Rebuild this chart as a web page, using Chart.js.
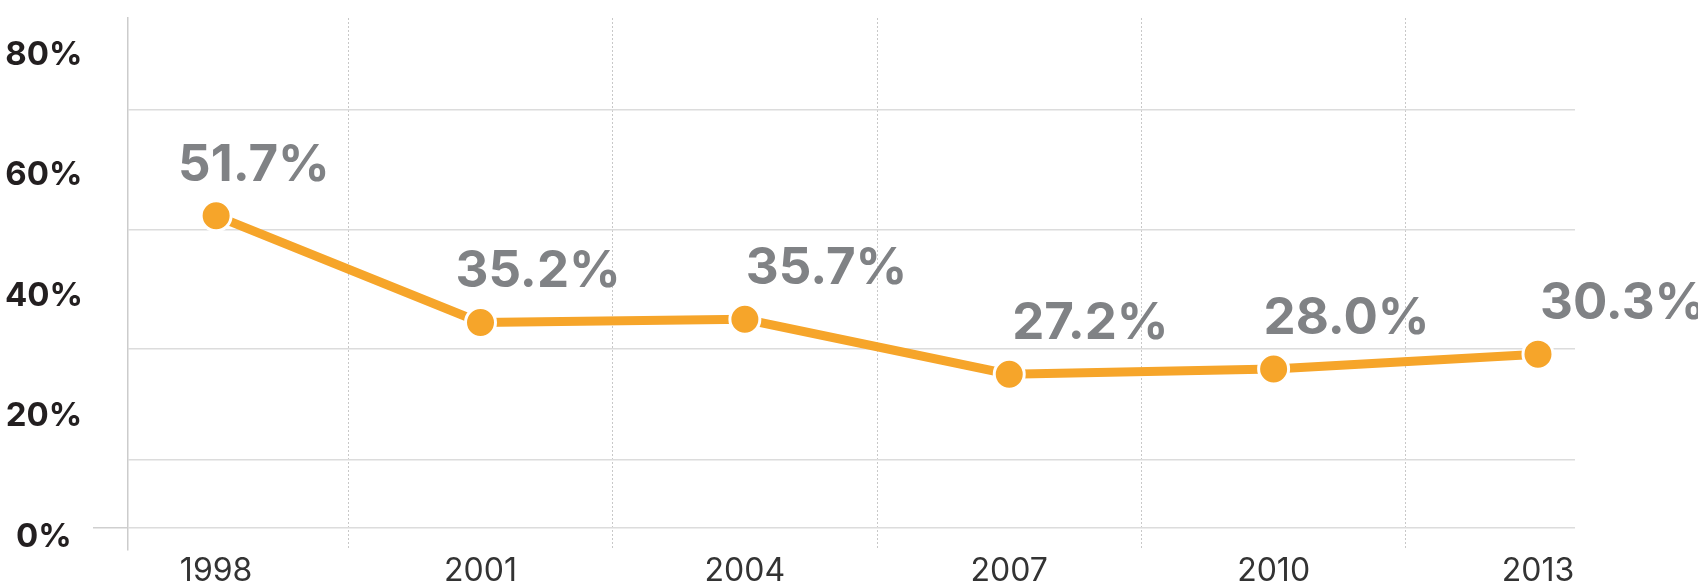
<!DOCTYPE html>
<html>
<head>
<meta charset="utf-8">
<script src="https://cdn.jsdelivr.net/npm/chart.js@4.4.1/dist/chart.umd.min.js"></script>
<style>
    html, body { margin: 0; padding: 0; background: #fff; }
    #chart { display: block; }
</style>
</head>
<body>
<canvas id="chart" width="1698" height="586"></canvas>
<script>
// данные графика
const years = [1998, 2001, 2004, 2007, 2010, 2013];
const shares = [51.7, 35.2, 35.7, 27.2, 28.0, 30.3];
const yTickLabels = [0, 20, 40, 60, 80];
// горизонтальные линии сетки (в единицах оси подписей)
const yGridValues = [1.6, 12.9, 31.3, 51.0, 70.8];
// пунктирные вертикальные линии между годами
const xGridValues = [1999.5, 2002.5, 2005.5, 2008.5, 2011.5];

const ORANGE = '#f6a52a';
const FONT = 'Inter, "Noto Sans", sans-serif';

// подписи значений над точками
const valueLabels = {
    id: 'valueLabels',
    afterDatasetsDraw(chart, args, opts) {
        const ctx = chart.ctx;
        const meta = chart.getDatasetMeta(0);
        ctx.save();
        ctx.font = opts.font;
        ctx.fillStyle = opts.color;
        ctx.textAlign = 'left';
        ctx.textBaseline = 'alphabetic';
        meta.data.forEach((pt, i) => {
            ctx.fillText(shares[i].toFixed(1) + '%', pt.x + opts.shiftX[i], pt.y + opts.shiftY);
        });
        ctx.restore();
    }
};

new Chart(document.getElementById('chart'), {
    type: 'line',
    data: {
        datasets: [{
            data: years.map((y, i) => ({ x: y, y: shares[i] })),
            borderColor: ORANGE,
            borderWidth: 9,
            tension: 0,
            pointRadius: 15,
            pointHoverRadius: 15,
            pointBackgroundColor: ORANGE,
            pointBorderColor: '#fff',
            pointBorderWidth: 3,
            yAxisID: 'y'
        }]
    },
    options: {
        responsive: false,
        animation: false,
        events: [],
        layout: { padding: { left: 0, top: 15, right: 123, bottom: 0 } },
        plugins: {
            legend: { display: false },
            tooltip: { enabled: false },
            valueLabels: {
                font: 'bold 51px ' + FONT,
                color: '#808285',
                shiftX: [-38, -25, 1, 3, -10, 2],
                shiftY: -35
            }
        },
        scales: {
            x: {
                type: 'linear',
                min: 1997,
                max: 2013.42,
                afterBuildTicks: (axis) => {
                    axis.ticks = years.concat(xGridValues).sort((a, b) => a - b).map(v => ({ value: v }));
                },
                afterFit: (axis) => { axis.height = 36; },
                grid: {
                    drawTicks: false,
                    lineWidth: 1,
                    color: (c) => xGridValues.includes(c.tick && c.tick.value) ? '#c8c8c8' : 'rgba(0,0,0,0)'
                },
                border: { display: false, dash: [2, 2] },
                ticks: {
                    autoSkip: false,
                    maxRotation: 0,
                    padding: 2,
                    color: '#333',
                    font: { family: FONT, size: 32 },
                    callback: (v) => years.includes(v) ? String(v) : ''
                }
            },
            y: {
                display: false,
                min: 0,
                max: 82.3
            },
            yl: {
                position: 'left',
                min: -2.14,
                max: 86.1,
                afterBuildTicks: (axis) => {
                    axis.ticks = yTickLabels.concat(yGridValues).sort((a, b) => a - b).map(v => ({ value: v }));
                },
                afterFit: (axis) => {
                    axis.width = 128;
                    // подписи не должны сдвигать область графика
                    axis.paddingTop = 0;
                    axis.paddingBottom = 0;
                },
                grid: {
                    drawTicks: true,
                    tickLength: 35,
                    lineWidth: 1.5,
                    color: (c) => yGridValues.includes(c.tick && c.tick.value) ? '#dcdcdc' : 'rgba(0,0,0,0)',
                    tickColor: (c) => (c.tick && c.tick.value === yGridValues[0]) ? '#cfcfcf' : 'rgba(0,0,0,0)',
                    tickWidth: 1.5
                },
                border: { display: true, color: '#cccccc', width: 1.5 },
                ticks: {
                    autoSkip: false,
                    crossAlign: 'center',
                    padding: 10,
                    color: '#231f20',
                    font: { family: FONT, size: 33, weight: 'bold' },
                    callback: (v) => yTickLabels.includes(v) ? v + '%' : ''
                }
            }
        }
    },
    plugins: [valueLabels]
});
</script>
</body>
</html>
